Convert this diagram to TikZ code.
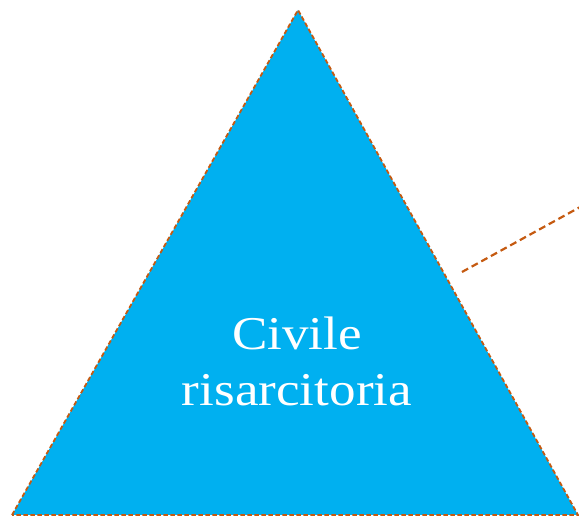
\documentclass[tikz,border=0pt]{standalone}
\usepackage{fontspec}
\setmainfont{Liberation Serif}[FakeStretch=1.13]
\definecolor{pyrfill}{HTML}{00B0F0}
\definecolor{pyredge}{HTML}{C55A11}
\begin{document}
\begin{tikzpicture}[x=1pt, y=1pt,
        pyramid/.style={fill=pyrfill, draw=pyredge, line width=1.8pt, dash pattern=on 4.5pt off 2.5pt},
        leader/.style={draw=pyredge, line width=2.2pt, dash pattern=on 7pt off 4pt},
        label/.style={text=white, align=center, font=\fontsize{47}{56}\selectfont}
    ]
        \useasboundingbox (0,0) rectangle (579,518);

        % Triangle
        \coordinate (top) at (298,508);
        \coordinate (left) at (12,3);
        \coordinate (right) at (578,3);
        \draw[pyramid] (left) -- (top) -- (right) -- cycle;

        \node[label] (civ) at (297,157) {Civile\\risarcitoria};

        % Leader line
        \coordinate (edge) at (462,246);
        \coordinate (out) at (582,312);
        \draw[leader] (edge) -- (out);
    \end{tikzpicture}
\end{document}
